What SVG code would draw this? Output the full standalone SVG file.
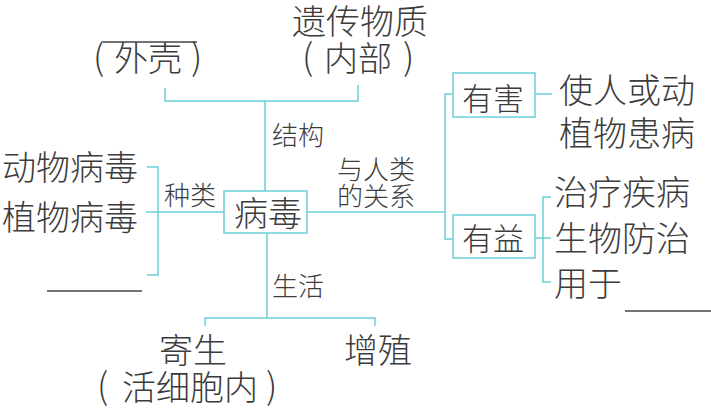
<svg xmlns="http://www.w3.org/2000/svg" width="711" height="410" viewBox="0 0 711 410">
<style>
.t{font-family:"Noto Sans CJK SC","Noto Sans",sans-serif;fill:#3c3c3c;font-weight:300;}
.b{font-size:34px;}
.s{font-size:26px;}
.m{font-size:31px;}
.p{font-family:"Noto Sans CJK SC","Noto Sans",sans-serif;fill:#3c3c3c;font-weight:300;font-size:36px;}
.ln{fill:none;stroke:#6ccfd9;stroke-width:1.5;}
.blank{stroke:#444;stroke-width:1.5;}
</style>
<rect width="711" height="410" fill="#fff"/>
<g id="connectors">
<path class="ln" d="M165,88 V101 H358 V85 M265,101 V191"/>
<path class="ln" d="M146,212 H224 M147,167 H158 V275 H147"/>
<path class="ln" d="M267,233 V318 M205,326 V318 H375 V326"/>
<path class="ln" d="M307,212 H445 M453,94 H445 V239 H453"/>
<path class="ln" d="M535,94 H552 M551,197 H543 V282 H551 M535,238 H551"/>
</g>
<g id="label-jiegou"><text class="t s" x="272" y="145">结构</text></g>
<g id="label-zhonglei"><text class="t s" x="164" y="205">种类</text></g>
<g id="label-relation"><text class="t s" x="337" y="179">与人类</text><text class="t s" x="337" y="206">的关系</text></g>
<g id="label-shenghuo"><text class="t s" x="272" y="296">生活</text></g>
<g id="node-bingdu"><rect class="ln" x="224" y="191" width="83" height="42"/><text class="t b" x="234" y="226">病毒</text></g>
<g id="node-waike"><line class="blank" x1="103" y1="42" x2="197" y2="42"/><text class="p" x="93" y="70">(</text><text class="t b" x="114" y="71">外壳</text><text class="p" x="191" y="70">)</text></g>
<g id="node-yichuan"><text class="t b" x="292" y="34">遗传物质</text><text class="p" x="302" y="70">(</text><text class="t b" x="324" y="71">内部</text><text class="p" x="403" y="70">)</text></g>
<g id="node-dongwu"><text class="t b" x="2" y="180">动物病毒</text></g>
<g id="node-zhiwu"><text class="t b" x="2" y="230">植物病毒</text></g>
<g id="node-blank-left"><line class="blank" x1="47" y1="291" x2="142" y2="291"/></g>
<g id="node-jisheng"><text class="t b" x="159" y="363">寄生</text><text class="p" x="97" y="399">(</text><text class="t b" x="122" y="400">活细胞内</text><text class="p" x="266" y="399">)</text></g>
<g id="node-zengzhi"><text class="t b" x="344" y="363">增殖</text></g>
<g id="node-youhai"><rect class="ln" x="453" y="73" width="82" height="44"/><text class="t m" x="462" y="110">有害</text></g>
<g id="node-youyi"><rect class="ln" x="453" y="215" width="82" height="43"/><text class="t m" x="462" y="250">有益</text></g>
<g id="node-harm"><text class="t b" x="559" y="103">使人或动</text><text class="t b" x="559" y="146">植物患病</text></g>
<g id="node-zhiliao"><text class="t b" x="554" y="205">治疗疾病</text></g>
<g id="node-fangzhi"><text class="t b" x="554" y="251">生物防治</text></g>
<g id="node-yongyu"><text class="t b" x="554" y="296">用于</text><line class="blank" x1="625" y1="311" x2="711" y2="311"/></g>
</svg>
